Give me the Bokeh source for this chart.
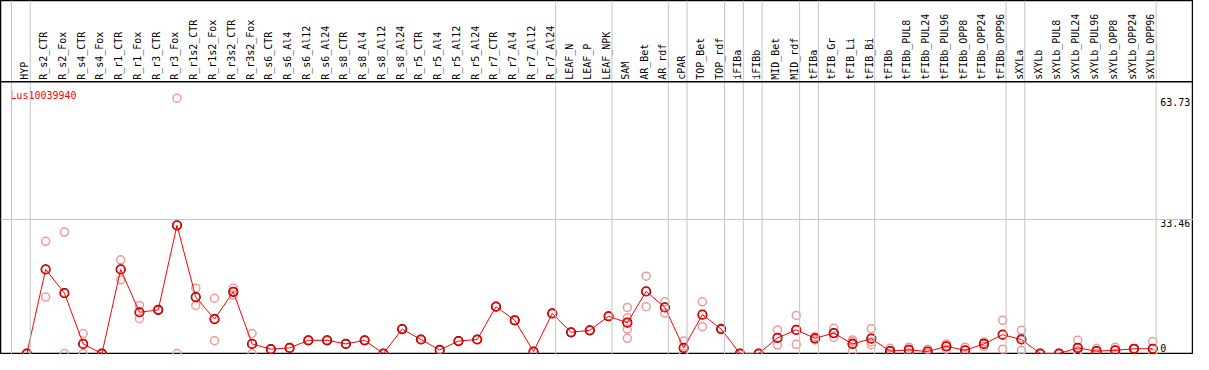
from bokeh.plotting import figure
from bokeh.models import Range1d, Span, ColumnDataSource
from bokeh.core.properties import value
from bokeh.embed import file_html
from bokeh.resources import INLINE

gene = "Lus10039940"

categories = ["HYP", "R_s2_CTR", "R_s2_Fox", "R_s4_CTR", "R_s4_Fox", "R_r1_CTR", "R_r1_Fox",
              "R_r3_CTR", "R_r3_Fox", "R_r1s2_CTR", "R_r1s2_Fox", "R_r3s2_CTR", "R_r3s2_Fox",
              "R_s6_CTR", "R_s6_Al4", "R_s6_Al12", "R_s6_Al24", "R_s8_CTR", "R_s8_Al4",
              "R_s8_Al12", "R_s8_Al24", "R_r5_CTR", "R_r5_Al4", "R_r5_Al12", "R_r5_Al24",
              "R_r7_CTR", "R_r7_Al4", "R_r7_Al12", "R_r7_Al24", "LEAF_N", "LEAF_P", "LEAF_NPK",
              "SAM", "AR_Bet", "AR_rdf", "cPAR", "TOP_Bet", "TOP_rdf", "iFIBa", "iFIBb",
              "MID_Bet", "MID_rdf", "tFIBa", "tFIB_Gr", "tFIB_Li", "tFIB_Bi", "tFIBb",
              "tFIBb_PUL8", "tFIBb_PUL24", "tFIBb_PUL96", "tFIBb_OPP8", "tFIBb_OPP24",
              "tFIBb_OPP96", "sXYLa", "sXYLb", "sXYLb_PUL8", "sXYLb_PUL24", "sXYLb_PUL96",
              "sXYLb_OPP8", "sXYLb_OPP24", "sXYLb_OPP96"]

means = [0, 21.0, 15.1, 2.4, 0, 21.0, 10.3, 10.9, 32.0, 14.1, 8.6, 15.4, 2.4,
         1.1, 1.4, 3.3, 3.3, 2.4, 3.3, 0, 6.1, 3.5, 0.9, 3.1, 3.5,
         11.7, 8.3, 0.5, 10.0, 5.3, 5.8, 9.3,
         7.7, 15.5, 11.5, 1.4, 9.7, 6.1, 0, 0,
         3.9, 5.9, 3.8, 5.1, 2.4, 3.7, 0.6,
         0.9, 0.5, 1.8, 0.8, 2.4, 4.7, 3.5, 0, 0, 1.4, 0.6, 0.8, 1.2, 1.2]

replicates = [[0, 0], [28.0, 14.1], [30.3, 0], [5.0, 0], [0, 0], [23.4, 18.4], [12.0, 8.7],
              [11.0, 10.8], [63.73, 0], [16.3, 12.0], [13.8, 3.2], [16.3, 14.6], [5.0, 0],
              [1.1], [1.4], [3.3], [3.3], [2.4], [3.3], [0], [6.1], [3.5], [0.9], [3.1], [3.5],
              [11.7], [8.3], [0.5], [10.0], [5.3], [5.8], [9.3],
              [11.5, 8.9, 6.1, 3.8], [19.3, 11.7], [12.9, 10.1], [3.1, 0], [12.9, 6.7], [6.3, 6.0],
              [0, 0], [0, 0], [5.9, 2.1], [9.5, 2.3], [4.2, 3.4], [6.3, 4.0], [3.4, 3.0, 0.6],
              [6.2, 2.9, 2.2], [1.3, 0], [1.6, 0.2], [1.1, 0], [2.4, 1.1], [1.6, 0], [2.9, 1.8],
              [8.3, 1.1], [5.8, 3.9, 0.8], [0, 0], [0, 0], [3.3, 0.7, 0], [1.3, 0], [1.6, 0],
              [1.2, 1.2], [3.0, 0]]

# group separators sit just after these category indices
separator_after = [-1, 0, 28, 31, 34, 35, 37, 38, 39, 41, 42, 45, 52, 53, 60]

y_ticks = [63.73, 33.46, 0]
y_tick_labels = ["63.73", "33.46", "0"]

FONT = value("DejaVu Sans Mono")

x_idx = list(range(len(categories)))
p = figure(width=1193, height=354, output_backend="svg", toolbar_location=None,
           x_range=Range1d(-1.405, 62.17), y_range=Range1d(-0.24, 88.1),
           x_axis_type=None, y_axis_type=None, min_border=0)
p.grid.visible = False
p.outline_line_color = "black"
p.outline_line_width = 1.5

# vertical separators
for s in separator_after:
    p.add_layout(Span(location=s + 0.18, dimension="height", line_color="#c4c4c4", line_width=1))
# horizontal guide at mid tick
p.add_layout(Span(location=y_ticks[1], dimension="width", line_color="#c4c4c4", line_width=1))
# header separator
p.add_layout(Span(location=67.8, dimension="width", line_color="black", line_width=1.5))

# replicate points
rx, ry = [], []
for i, reps in enumerate(replicates):
    for v in reps:
        rx.append(i)
        ry.append(v)
p.scatter(rx, ry, marker="circle", size=8, fill_color=None, line_color="#ef9a9a", line_width=1.5)

# mean line and markers
p.line(x_idx, means, line_color="red", line_width=1)
p.scatter(x_idx, means, marker="circle", size=9, fill_color=None, line_color="#600000", line_width=1.2)
p.scatter(x_idx, means, marker="circle", size=8, fill_color=None, line_color="red", line_width=1.3)

# category labels (vertical)
lab_src = ColumnDataSource(dict(x=x_idx, y=[68.3] * len(categories), t=categories))
p.text(x="x", y="y", text="t", source=lab_src, angle=1.5708, text_align="left",
       text_baseline="middle", x_offset=-2, text_font=FONT, text_font_size="10px",
       text_color="black")

# gene label
p.text(x=[-0.88], y=[64.5], text=[gene], text_align="left", text_baseline="middle",
       text_font=FONT, text_font_size="10px", text_color="red")

# value labels on right
p.text(x=[60.4] * 2, y=y_ticks[:2], text=y_tick_labels[:2], text_align="left",
       text_baseline="top", text_font=FONT, text_font_size="10px", text_color="black")
p.text(x=[60.4], y=[0.4], text=[y_tick_labels[2]], text_align="left",
       text_baseline="bottom", text_font=FONT, text_font_size="10px", text_color="black")

open("out.html", "w").write(file_html(p, INLINE))
